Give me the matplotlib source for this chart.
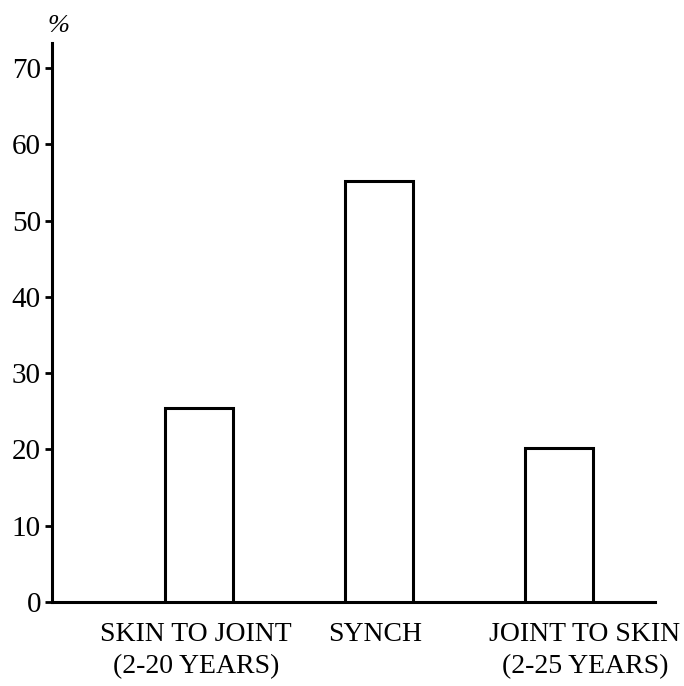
import numpy as np
import matplotlib
matplotlib.use("Agg")
import matplotlib.pyplot as plt
import matplotlib.transforms as mtransforms

# Data
categories = ["SKIN TO JOINT\n(2-20 YEARS)", "SYNCH", "JOINT TO SKIN\n(2-25 YEARS)"]
values = [25.5, 55.2, 20.2]
y_ticks = [0, 10, 20, 30, 40, 50, 60, 70]

plt.rcParams.update({
    "font.family": "Liberation Serif",
    "font.size": 20,
})

x = np.arange(1, len(categories) + 1)
label_x = [0.983, 1.978, 3.144]

fig = plt.figure(figsize=(6.84, 6.86), dpi=100)
ax = fig.add_axes([52 / 684, 84 / 686, 603 / 684, 559 / 686])

ax.bar(x, values, width=0.38, facecolor="white", edgecolor="black",
       linewidth=2.2, zorder=3)

ax.set_xlim(0.183, 3.533)
ax.set_ylim(0, 73.3)
ax.set_yticks(y_ticks)
ax.set_yticklabels([str(t) for t in y_ticks], fontsize=21)
ax.set_xticks([])

for s in ["top", "right"]:
    ax.spines[s].set_visible(False)
for s in ["left", "bottom"]:
    ax.spines[s].set_linewidth(2.2)
ax.tick_params(axis="y", direction="out", length=5, width=2, pad=3)

# category labels below axis
trans = mtransforms.blended_transform_factory(ax.transData, ax.transAxes)
for lx, lab in zip(label_x, categories):
    ax.text(lx, -0.036, lab, transform=trans, ha="center", va="top",
            fontsize=20, linespacing=1.35)

# percent sign above axis
ax.text(-0.008, 1.011, "%", transform=ax.transAxes, ha="left", va="bottom",
        fontsize=19, style="italic")

fig.savefig("out.png", dpi=100)
